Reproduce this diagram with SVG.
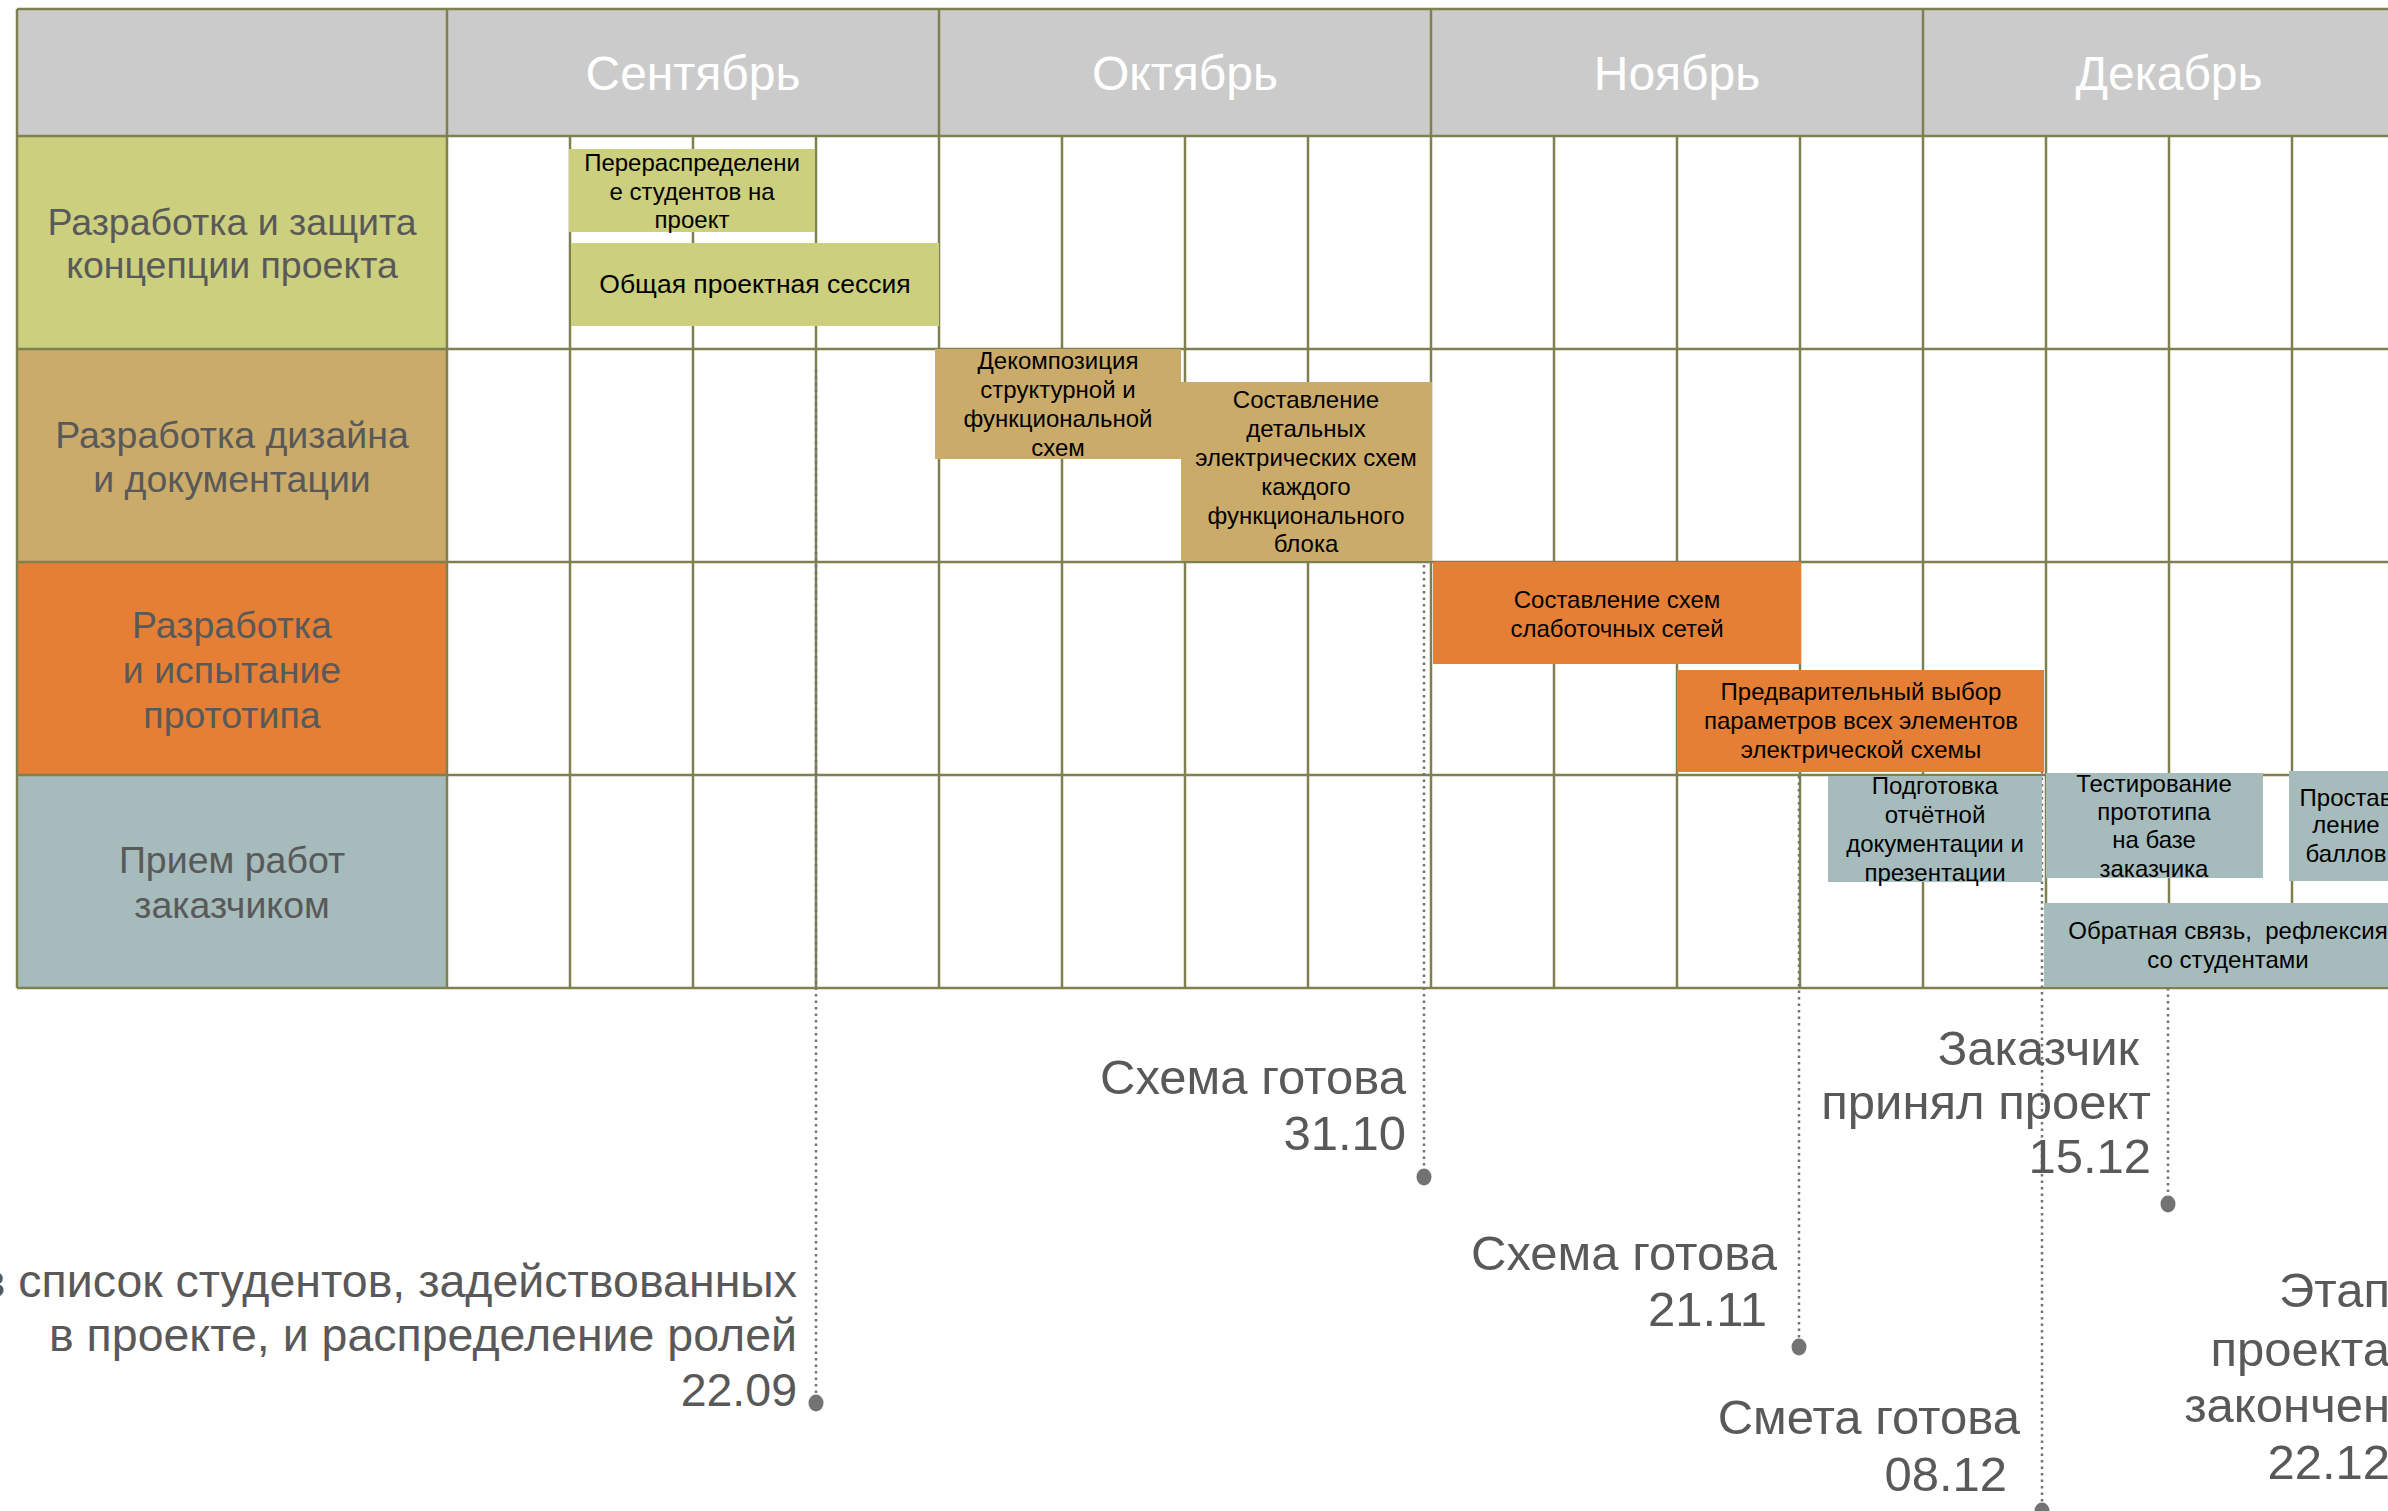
<svg xmlns="http://www.w3.org/2000/svg" width="2388" height="1511" viewBox="0 0 2388 1511">
<defs>
<style>
text{font-family:"Liberation Sans",Arial,sans-serif}
.grid{stroke:#7F8050;stroke-width:2.5;fill:none}
.month{font-size:48px;fill:#FFFFFF;text-anchor:middle}
.rl{font-size:37.5px;fill:#595959;text-anchor:middle}
.tk{font-size:24px;fill:#000000;text-anchor:middle}
.ms{font-size:49px;fill:#595959;text-anchor:end}
.ms2{font-size:46.5px;fill:#595959;text-anchor:end}
.c1{fill:#CCCF7E}.c2{fill:#CBAB69}.c3{fill:#E57F35}.c4{fill:#A6BBBB}
.dl{stroke:#737373;stroke-width:2.5;stroke-dasharray:2.5 4;fill:none}
.dot{fill:#737373}
</style>
</defs>
<rect width="2388" height="1511" fill="#FFFFFF"/>
<g id="table">
<rect x="17" y="9" width="2400" height="127" fill="#CBCBCB"/>
<rect x="17" y="136" width="430" height="213" class="c1"/>
<rect x="17" y="349" width="430" height="213" class="c2"/>
<rect x="17" y="562" width="430" height="213" class="c3"/>
<rect x="17" y="775" width="430" height="213" class="c4"/>
<path class="grid" d="M17 9H2420M17 136H2420M17 349H2420M17 562H2420M17 775H2420M17 988H2420M17 9V988M447 9V988M939 9V988M1431 9V988M1923 9V988M570 136V988M693 136V988M816 136V988M1062 136V988M1185 136V988M1308 136V988M1554 136V988M1677 136V988M1800 136V988M2046 136V988M2169 136V988M2292 136V988"/>
<text class="month" x="693" y="90">Сентябрь</text>
<text class="month" x="1185" y="90">Октябрь</text>
<text class="month" x="1677" y="90">Ноябрь</text>
<text class="month" x="2169" y="90">Декабрь</text>
</g>
<g id="row1-label"><text class="rl" x="232" y="235">Разработка и защита</text><text class="rl" x="232" y="278">концепции проекта</text></g>
<g id="row2-label"><text class="rl" x="232" y="448">Разработка дизайна</text><text class="rl" x="232" y="492">и документации</text></g>
<g id="row3-label"><text class="rl" x="232" y="638">Разработка</text><text class="rl" x="232" y="683">и испытание</text><text class="rl" x="232" y="728">прототипа</text></g>
<g id="row4-label"><text class="rl" x="232" y="873">Прием работ</text><text class="rl" x="232" y="918">заказчиком</text></g>

<g id="connectors">
<path class="dl" d="M816 370V1400M1424 565V1172M1799 776V1342M2042 758V1511M2168 988V1199"/>
<ellipse class="dot" cx="816" cy="1403" rx="7.5" ry="8.5"/>
<ellipse class="dot" cx="1424" cy="1177" rx="7.5" ry="8.5"/>
<ellipse class="dot" cx="1799" cy="1347" rx="7.5" ry="8.5"/>
<ellipse class="dot" cx="2042" cy="1511" rx="7.5" ry="8.5"/>
<ellipse class="dot" cx="2168" cy="1204" rx="7.5" ry="8.5"/>
</g>

<g id="task-redistribution"><rect x="569" y="149" width="246" height="83" class="c1"/><text class="tk" x="692" y="171">Перераспределени</text><text class="tk" x="692" y="200">е студентов на</text><text class="tk" x="692" y="228">проект</text></g>
<g id="task-session"><rect x="571" y="243" width="368" height="83" class="c1"/><text class="tk" style="font-size:26.5px" x="755" y="293">Общая проектная сессия</text></g>
<g id="task-decomposition"><rect x="935" y="349" width="246" height="110" class="c2"/><text class="tk" x="1058" y="369">Декомпозиция</text><text class="tk" x="1058" y="398">структурной и</text><text class="tk" x="1058" y="427">функциональной</text><text class="tk" x="1058" y="456">схем</text></g>
<g id="task-detailed"><rect x="1181" y="382" width="251" height="179" class="c2"/><text class="tk" x="1306" y="408">Составление</text><text class="tk" x="1306" y="437">детальных</text><text class="tk" x="1306" y="466">электрических схем</text><text class="tk" x="1306" y="495">каждого</text><text class="tk" x="1306" y="524">функционального</text><text class="tk" x="1306" y="552">блока</text></g>
<g id="task-lowcurrent"><rect x="1433" y="562" width="368" height="102" class="c3"/><text class="tk" x="1617" y="608">Составление схем</text><text class="tk" x="1617" y="637">слаботочных сетей</text></g>
<g id="task-params"><rect x="1677" y="670" width="367" height="102" class="c3"/><text class="tk" x="1861" y="700">Предварительный выбор</text><text class="tk" x="1861" y="729">параметров всех элементов</text><text class="tk" x="1861" y="758">электрической схемы</text></g>
<g id="task-report"><rect x="1828" y="776" width="214" height="106" class="c4"/><text class="tk" x="1935" y="794">Подготовка</text><text class="tk" x="1935" y="823">отчётной</text><text class="tk" x="1935" y="852">документации и</text><text class="tk" x="1935" y="881">презентации</text></g>
<g id="task-testing"><rect x="2046" y="773" width="217" height="105" class="c4"/><text class="tk" x="2154" y="792">Тестирование</text><text class="tk" x="2154" y="820">прототипа</text><text class="tk" x="2154" y="848">на базе</text><text class="tk" x="2154" y="877">заказчика</text></g>
<g id="task-grades"><rect x="2289" y="771" width="115" height="110" class="c4"/><text class="tk" x="2346" y="806">Простав</text><text class="tk" x="2346" y="833">ление</text><text class="tk" x="2346" y="862">баллов</text></g>
<g id="task-feedback"><rect x="2044" y="903" width="368" height="84" class="c4"/><text class="tk" x="2228" y="939" xml:space="preserve">Обратная связь,  рефлексия</text><text class="tk" x="2228" y="968">со студентами</text></g>

<g id="ms-2209"><text class="ms2" x="797" y="1297">в список студентов, задействованных</text><text class="ms2" x="797" y="1351">в проекте, и распределение ролей</text><text class="ms2" x="797" y="1406">22.09</text></g>
<g id="ms-3110"><text class="ms" x="1406" y="1094">Схема готова</text><text class="ms" x="1406" y="1150">31.10</text></g>
<g id="ms-2111"><text class="ms" x="1777" y="1270">Схема готова</text><text class="ms" x="1767" y="1326">21.11</text></g>
<g id="ms-1512"><text class="ms" x="2139" y="1065">Заказчик</text><text class="ms" x="2151" y="1119">принял проект</text><text class="ms" x="2151" y="1173">15.12</text></g>
<g id="ms-0812"><text class="ms" x="2020" y="1434">Смета готова</text><text class="ms" x="2007" y="1491">08.12</text></g>
<g id="ms-2212"><text class="ms" x="2390" y="1307">Этап</text><text class="ms" x="2390" y="1366">проекта</text><text class="ms" x="2390" y="1422">закончен</text><text class="ms" x="2390" y="1479">22.12</text></g>
</svg>
